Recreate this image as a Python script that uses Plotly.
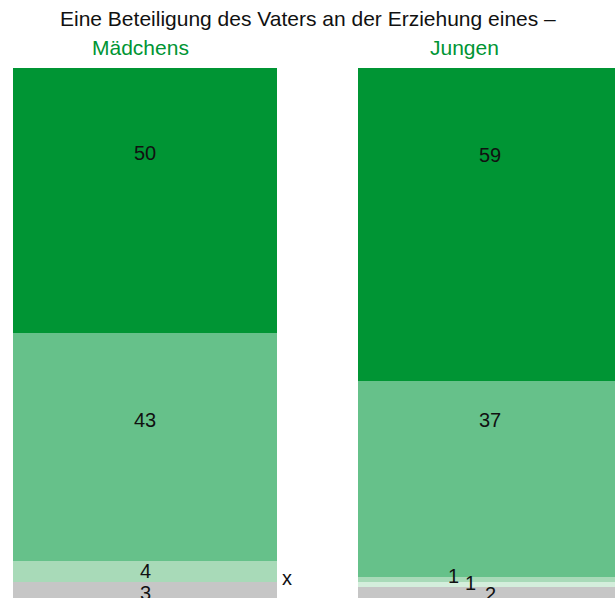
import plotly.graph_objects as go

groups = ["Mädchens", "Jungen"]
segments = ["sehr gut", "gut", "weniger gut", "schlecht", "keine Angabe"]
values = {
    "sehr gut":     [50, 59],
    "gut":          [43, 37],
    "weniger gut":  [4, 1],
    "schlecht":     [None, 1],
    "keine Angabe": [3, 2],
}
labels = {
    "sehr gut":     ["50", "59"],
    "gut":          ["43", "37"],
    "weniger gut":  ["4", "1"],
    "schlecht":     ["x", "1"],
    "keine Angabe": ["3", "2"],
}
colors = {
    "sehr gut": "#009534",
    "gut": "#66c18a",
    "weniger gut": "#a8dab8",
    "schlecht": "#d4eedc",
    "keine Angabe": "#c6c6c6",
}
title_text = "Eine Beteiligung des Vaters an der Erziehung eines –"

FONT = "Liberation Sans, Arial, sans-serif"
LBL = 20
xs = [0, 1]
fig = go.Figure()
order = segments[::-1]
for seg in order:
    fig.add_trace(go.Bar(
        x=xs, y=[v if v is not None else 0 for v in values[seg]],
        marker=dict(color=colors[seg], line=dict(width=0)),
        width=0.768, name=seg, showlegend=False, hoverinfo="skip",
    ))

# label offsets (pixels) – styling only
xshift = {("weniger gut", 1): -37, ("schlecht", 1): -20}
yshift = {("sehr gut", 0): 48, ("sehr gut", 1): 69,
          ("gut", 0): 27, ("gut", 1): 59,
          ("weniger gut", 0): 1, ("keine Angabe", 0): -3,
          ("weniger gut", 1): 3, ("schlecht", 1): 2, ("keine Angabe", 1): -1}
for gi in range(2):
    base = 0.0
    for seg in order:
        v = values[seg][gi]
        lab = labels[seg][gi]
        vv = v if v is not None else 0
        if v is None:
            fig.add_annotation(x=xs[gi] + 0.384, y=base, text=lab, showarrow=False,
                               xanchor="left", xshift=3, yshift=4,
                               font=dict(family=FONT, size=LBL, color="#111111"))
        else:
            fig.add_annotation(x=xs[gi], y=base + vv / 2, text=lab, showarrow=False,
                               xshift=xshift.get((seg, gi), 0),
                               yshift=yshift.get((seg, gi), 0),
                               font=dict(family=FONT, size=LBL, color="#111111"))
        base += vv

fig.add_annotation(xref="paper", yref="paper", x=0.5, y=1, yshift=50, text=title_text,
                   showarrow=False, yanchor="middle",
                   font=dict(family=FONT, size=21, color="#111111"))
fig.add_annotation(xref="x", yref="paper", x=xs[0], xshift=-5, y=1, yshift=21, text=groups[0],
                   showarrow=False, yanchor="middle",
                   font=dict(family=FONT, size=21, color="#009534"))
fig.add_annotation(xref="x", yref="paper", x=xs[1], xshift=-26, y=1, yshift=21, text=groups[1],
                   showarrow=False, yanchor="middle",
                   font=dict(family=FONT, size=21, color="#009534"))

fig.update_layout(
    barmode="stack",
    width=615, height=598,
    margin=dict(l=0, r=0, t=68, b=0),
    paper_bgcolor="white", plot_bgcolor="white",
    xaxis=dict(range=[-0.4203, 1.3623], visible=False, fixedrange=True),
    yaxis=dict(range=[0, 100], visible=False, fixedrange=True),
    bargap=0,
)
fig.write_html("out.html", config={"displayModeBar": False},
               post_script="document.body.style.margin='0';document.body.style.overflow='hidden';")
